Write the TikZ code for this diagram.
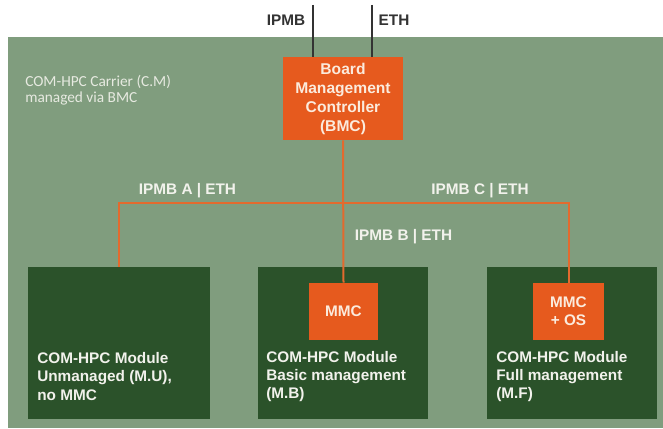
\documentclass[tikz,border=0pt]{standalone}
\usepackage{fontspec}
\setmainfont{Liberation Sans}
\newfontfamily\carrierfont{Carlito}
\usetikzlibrary{positioning,calc}
\definecolor{carrier}{HTML}{809D7E}
\definecolor{module}{HTML}{2B522A}
\definecolor{bmcorange}{HTML}{E65A1E}
\definecolor{wire}{HTML}{E36A2E}
\definecolor{ink}{HTML}{333333}
\definecolor{pale}{HTML}{F2F2EC}
\definecolor{cream}{HTML}{FBEBDD}
\tikzset{
  every node/.style={font=\fontsize{11.5}{13.5}\selectfont\bfseries},
  board/.style={fill=carrier,draw=none,inner sep=0pt,anchor=north west},
  modbox/.style={fill=module,draw=none,inner sep=0pt,anchor=north west,minimum height=114pt},
  chip/.style={fill=bmcorange,draw=none,inner sep=0pt,align=center,text=cream},
  modtext/.style={anchor=west,align=left,inner sep=0pt,text=pale,font=\fontsize{11.5}{13.8}\selectfont\bfseries},
  buslabel/.style={inner sep=0pt,text=pale},
  extlabel/.style={inner sep=0pt,text=ink},
  link/.style={draw=wire,line width=1.5pt},
  extlink/.style={draw=ink,line width=1.4pt},
}
\begin{document}
\begin{tikzpicture}[x=0.75pt,y=-0.75pt]
  \useasboundingbox[fill=white] (0,0) rectangle (663,428);

  % carrier board
  \node[board,minimum width=491.25pt,minimum height=293.25pt] (carrier) at (8,37) {};
  \node[anchor=west,align=left,inner sep=0pt,text=pale!90!carrier,
        font=\carrierfont\fontsize{11.5}{12}\selectfont] (cmlabel) at (25,90)
        {COM-HPC Carrier (C.M)\\managed via BMC};

  % board management controller
  \node[chip,minimum width=90pt,minimum height=62.25pt,
        font=\fontsize{11.7}{14.25}\selectfont\bfseries] (bmc) at (343,98.5)
        {Board\\Management\\Controller\\(BMC)};

  % external interfaces
  \coordinate (ipmbtop) at (313,5);
  \coordinate (ethtop) at (372,5);
  \draw[extlink] (ipmbtop) -- (ipmbtop |- bmc.north);
  \draw[extlink] (ethtop) -- (ethtop |- bmc.north);
  \node[extlabel] (ipmb) at (286,20) {IPMB};
  \node[extlabel] (eth) at (394,20) {ETH};

  % modules
  \node[modbox,minimum width=136.5pt] (modU) at (28,267) {};
  \node[modbox,minimum width=127.5pt] (modB) at (258,267) {};
  \node[modbox,minimum width=127.5pt] (modF) at (487,267) {};
  \node[chip,minimum width=51.75pt,minimum height=42.75pt] (mmcB) at (343.5,311.5) {MMC};
  \node[chip,minimum width=53.25pt,minimum height=42.75pt] (mmcF) at (568.5,311.5) {MMC\\+ OS};
  \node[modtext] (txtU) at (37,376.5) {COM-HPC Module\\Unmanaged (M.U),\\no MMC};
  \node[modtext] (txtB) at (266,376.5) {COM-HPC Module\\Basic management\\(M.B)};
  \node[modtext] (txtF) at (496,376.5) {COM-HPC Module\\Full management\\(M.F)};

  % management bus
  \coordinate (busL) at (119,203);
  \coordinate (busR) at (568.5,203);
  \draw[link] (modU.north -| busL) -- (busL) -- (busR) -- (mmcF.north);
  \draw[link] (bmc.south) -- (mmcB.north);
  \node[buslabel] (busA) at (187.5,191) {IPMB A | ETH};
  \node[buslabel] (busC) at (480,191) {IPMB C | ETH};
  \node[buslabel] (busB) at (403.5,237) {IPMB B | ETH};
\end{tikzpicture}
\end{document}
